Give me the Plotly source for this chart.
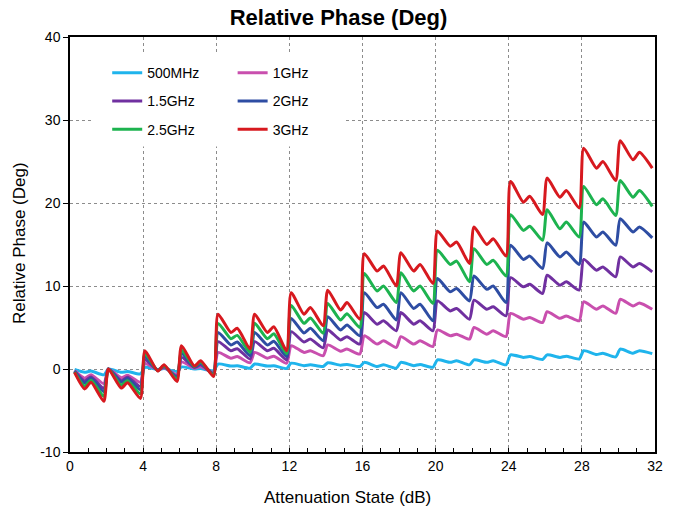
import plotly.graph_objects as go

# Attenuation states (dB) at which the curve values were read
X = [0.25, 0.8, 1.15, 1.85, 2.1, 2.8, 3.15, 3.85, 4.1, 4.8, 5.15, 5.85, 6.1, 6.8, 7.15, 7.85,
     8.1, 8.8, 9.15, 9.85, 10.1, 10.8, 11.15, 11.85, 12.1, 12.8, 13.15, 13.85, 14.1, 14.8, 15.15, 15.85,
     16.1, 16.8, 17.15, 17.85, 18.1, 18.8, 19.15, 19.85, 20.1, 20.8, 21.15, 21.85, 22.1, 22.8, 23.15, 23.85,
     24.1, 24.8, 25.15, 25.85, 26.1, 26.8, 27.15, 27.85, 28.1, 28.8, 29.15, 29.85, 30.1, 30.8, 31.15, 31.85]

PH_500M = [-0.05, -0.4, -0.25, -0.7, 0.0, -0.4, -0.3, -0.6, 0.2, -0.05, 0.05, -0.3, 0.25, 0.0, 0.05, -0.2,
           0.6, 0.35, 0.4, 0.1, 0.6, 0.35, 0.4, 0.05, 0.7, 0.4, 0.5, 0.3, 0.75, 0.45, 0.55, 0.3,
           0.8, 0.3, 0.5, 0.1, 0.8, 0.4, 0.55, 0.2, 1.1, 0.8, 1.0, 0.5, 1.1, 0.8, 1.0, 0.5,
           1.7, 1.4, 1.5, 1.15, 1.7, 1.4, 1.55, 1.2, 2.2, 1.75, 1.9, 1.45, 2.4, 1.9, 2.2, 1.85]
PH_1G = [-0.2, -1.1, -0.7, -1.75, 0.0, -1.05, -0.75, -1.6, 0.65, -0.1, 0.15, -0.7, 0.85, 0.1, 0.3, -0.4,
         2.0, 1.3, 1.5, 0.75, 2.0, 1.3, 1.55, 0.7, 2.8, 2.0, 2.2, 1.6, 2.9, 2.15, 2.4, 1.8,
         4.0, 3.0, 3.4, 2.6, 3.9, 3.0, 3.4, 2.7, 4.7, 4.0, 4.2, 3.6, 5.0, 4.2, 4.6, 3.9,
         6.7, 6.0, 6.2, 5.6, 6.9, 6.1, 6.4, 5.8, 8.1, 7.2, 7.6, 6.7, 8.4, 7.6, 7.95, 7.2]
PH_1G5 = [-0.25, -1.45, -0.95, -2.35, 0.0, -1.4, -1.0, -2.1, 1.1, -0.15, 0.25, -0.9, 1.4, 0.2, 0.5, -0.5,
          3.3, 2.2, 2.45, 1.2, 3.3, 2.2, 2.5, 1.1, 4.5, 3.25, 3.6, 2.55, 4.7, 3.5, 3.9, 3.0,
          6.8, 5.4, 5.8, 4.6, 6.8, 5.4, 5.8, 4.6, 8.2, 7.0, 7.3, 6.0, 8.3, 7.2, 7.5, 6.4,
          11.0, 9.9, 10.2, 9.1, 11.3, 10.1, 10.5, 9.5, 13.2, 11.9, 12.3, 11.1, 13.5, 12.3, 12.7, 11.7]
PH_2G = [-0.3, -1.7, -1.1, -2.75, 0.0, -1.6, -1.15, -2.5, 1.5, -0.15, 0.35, -1.05, 1.9, 0.25, 0.7, -0.6,
         4.4, 2.9, 3.25, 1.6, 4.4, 2.9, 3.35, 1.5, 6.1, 4.35, 4.9, 3.4, 6.3, 4.7, 5.3, 4.0,
         9.2, 7.4, 7.8, 5.9, 9.2, 7.3, 7.8, 5.8, 10.9, 9.3, 9.7, 8.2, 11.2, 9.6, 10.0, 8.0,
         14.9, 13.2, 13.6, 12.1, 15.2, 13.5, 14.1, 12.6, 17.7, 15.9, 16.5, 14.9, 18.1, 16.5, 17.1, 15.8]
PH_2G5 = [-0.35, -2.05, -1.35, -3.3, 0.0, -1.95, -1.4, -3.0, 1.85, -0.2, 0.4, -1.25, 2.3, 0.3, 0.85, -0.75,
          5.5, 3.65, 4.05, 2.0, 5.5, 3.65, 4.25, 1.85, 7.65, 5.5, 6.15, 4.3, 7.9, 5.9, 6.65, 5.0,
          11.5, 9.4, 10.0, 8.0, 11.6, 9.4, 10.0, 7.9, 14.3, 12.6, 13.0, 10.5, 14.5, 12.6, 13.1, 11.2,
          18.6, 16.7, 17.2, 15.5, 19.2, 16.9, 17.7, 15.9, 22.0, 19.8, 20.5, 18.5, 22.7, 20.7, 21.5, 19.6]
PH_3G = [-0.4, -2.4, -1.6, -3.9, 0.0, -2.3, -1.65, -3.55, 2.2, -0.25, 0.5, -1.5, 2.8, 0.35, 1.0, -0.9,
         6.6, 4.4, 4.9, 2.4, 6.6, 4.4, 5.1, 2.2, 9.2, 6.6, 7.4, 5.2, 9.5, 7.1, 8.0, 6.0,
         13.9, 11.8, 12.4, 10.0, 14.0, 11.8, 12.6, 10.3, 16.6, 14.8, 15.3, 12.7, 17.1, 15.0, 15.7, 13.6,
         22.6, 20.1, 20.8, 18.6, 23.0, 20.7, 21.5, 19.4, 26.6, 24.2, 25.0, 22.7, 27.5, 25.2, 26.1, 24.2]

NAMES = ["500MHz", "1GHz", "1.5GHz", "2GHz", "2.5GHz", "3GHz"]
SERIES = [PH_500M, PH_1G, PH_1G5, PH_2G, PH_2G5, PH_3G]
COLORS = ["#1fb4ec", "#c94fae", "#7030a0", "#2e4da3", "#1db34f", "#d7191f"]
LEGEND_OF = ["legend", "legend2", "legend", "legend2", "legend", "legend2"]

Y_TICKS = [-10, 0, 10, 20, 30, 40]
Y_TICK_TEXT = ["-10", "0", "10", "20", "30", "40"]

FONT = "Liberation Sans, Arial, sans-serif"

fig = go.Figure()
for name, ys, col, lg in zip(NAMES, SERIES, COLORS, LEGEND_OF):
    fig.add_trace(go.Scatter(
        x=X, y=ys, name=name, mode="lines",
        line=dict(color=col, width=3, shape="spline", smoothing=0.6),
        legend=lg, legendgroup=name,
    ))

# white legend panel over the grid
fig.add_shape(type="rect", xref="x", yref="y", x0=1.15, x1=15.0, y0=26.8, y1=38.2,
              fillcolor="white", line=dict(width=0), layer="between")

fig.update_layout(
    width=677, height=512,
    margin=dict(l=70, r=22, t=37, b=60),
    paper_bgcolor="white", plot_bgcolor="white",
    font=dict(family=FONT, size=14, color="black"),
    title=dict(text="<b>Relative Phase (Deg)</b>", x=0.5, xref="container", xanchor="center",
               y=1 - 17 / 512, yref="container", yanchor="middle",
               font=dict(family=FONT, size=22, color="black")),
    showlegend=True,
    legend=dict(x=0.0636, y=0.9515, xanchor="left", yanchor="top", bgcolor="rgba(0,0,0,0)",
                font=dict(family=FONT, size=14), tracegroupgap=7, itemwidth=30),
    legend2=dict(x=0.278, y=0.9515, xanchor="left", yanchor="top", bgcolor="rgba(0,0,0,0)",
                 font=dict(family=FONT, size=14), tracegroupgap=7, itemwidth=30),
    annotations=[
        dict(text="Attenuation State (dB)", xref="paper", yref="paper", x=(347 - 70) / 585, y=-(497 - 451.7) / 414.4,
             xanchor="center", yanchor="middle", showarrow=False, font=dict(family=FONT, size=17)),
        dict(text="Relative Phase (Deg)", xref="paper", yref="paper", x=-(70 - 20) / 585, y=(451.7 - 243) / 414.4,
             xanchor="center", yanchor="middle", textangle=-90, showarrow=False, font=dict(family=FONT, size=17)),
    ],
)

fig.update_xaxes(
    range=[0, 32], tickmode="linear", tick0=0, dtick=4,
    showgrid=True, gridcolor="#8c8c8c", griddash="dot", gridwidth=1,
    showline=True, linecolor="black", linewidth=1.5, mirror=True,
    ticks="inside", ticklen=4, tickcolor="black",
    minor=dict(dtick=1, ticks="inside", ticklen=4, tickcolor="black", showgrid=False),
    zeroline=False, tickfont=dict(family=FONT, size=14),
)
fig.update_yaxes(
    range=[-10, 40], tickmode="array", tickvals=Y_TICKS, ticktext=Y_TICK_TEXT,
    showgrid=True, gridcolor="#8c8c8c", griddash="dot", gridwidth=1,
    showline=True, linecolor="black", linewidth=1.5, mirror=True,
    ticks="outside", ticklen=5, tickcolor="black",
    zeroline=False, tickfont=dict(family=FONT, size=14),
)

fig.write_html("out.html")
